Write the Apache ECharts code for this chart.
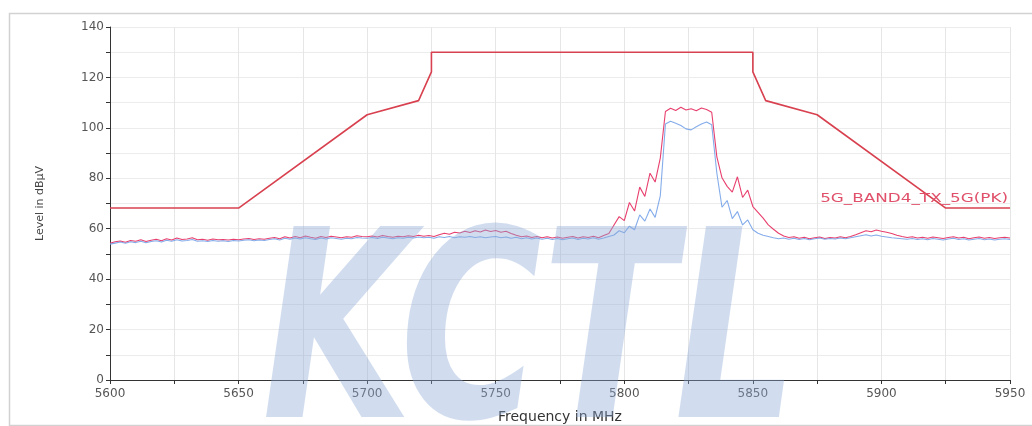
<!DOCTYPE html>
<html>
<head>
<meta charset="utf-8">
<script src="https://cdn.jsdelivr.net/npm/echarts@6/dist/echarts.min.js"></script>
<style>
html,body{margin:0;padding:0;background:#fff;}
#chart{width:1032px;height:426px;}
</style>
</head>
<body>
<div id="chart"></div>
<script>
// Frequency grid of the sweep traces (MHz)
const FREQ_START = 5600;
const FREQ_STEP = 2;

// Peak trace (dBµV/m), 5600..5950 MHz every 2 MHz
const pkTrace = [
  54.2,54.8,55.1,54.6,55.3,55.0,55.6,54.9,55.4,55.8,55.2,56.0,55.5,56.3,55.7,55.9,56.4,55.6,55.8,55.4,55.9,55.6,55.7,55.5,55.8,
  55.6,55.9,56.1,55.7,56.0,55.8,56.2,56.5,56.0,56.8,56.3,56.9,56.4,57.1,56.6,56.2,56.9,56.5,57.0,56.7,56.4,56.8,56.6,57.2,56.9,
  56.8,57.1,56.7,57.3,56.9,56.6,57.0,56.8,57.2,56.9,57.4,57.0,57.3,56.9,57.6,58.2,57.8,58.6,58.3,59.0,58.5,59.2,58.7,59.5,58.9,
  59.3,58.6,59.0,58.1,57.4,56.8,57.1,56.5,56.9,56.4,56.8,56.3,56.7,56.2,56.6,56.9,56.3,56.8,56.5,57.0,56.4,57.3,58.1,
  61.5,64.8,63.2,70.4,67.0,76.5,72.8,82.0,78.5,88.0,
  106.5,107.8,106.9,108.2,107.1,107.6,106.8,107.9,107.3,106.2,
  88.5,80.2,76.8,74.5,80.6,72.4,75.3,68.8,66.5,64.2,61.5,59.8,
  58.2,57.1,56.5,56.8,56.2,56.6,56.0,56.4,56.7,56.1,56.5,56.3,56.8,56.4,56.9,57.6,58.4,59.2,58.8,59.5,59.0,58.6,58.1,57.4,56.9,
  56.5,56.8,56.3,56.6,56.2,56.7,56.4,56.1,56.5,56.8,56.3,56.6,56.0,56.4,56.7,56.2,56.5,56.1,56.4,56.6,56.3
];

// Average trace (dBµV/m), same grid
const avTrace = [
  53.9,54.3,54.7,54.2,54.8,54.5,55.0,54.4,54.9,55.2,54.7,55.4,55.0,55.6,55.1,55.3,55.7,55.0,55.2,54.9,55.3,55.0,55.2,54.9,55.3,
  55.1,55.4,55.6,55.2,55.5,55.3,55.7,56.0,55.5,56.2,55.8,56.3,55.9,56.4,56.0,55.7,56.3,55.9,56.4,56.1,55.8,56.2,56.0,56.5,56.3,
  56.2,56.5,56.1,56.6,56.3,56.0,56.4,56.2,56.6,56.3,56.7,56.4,56.6,56.2,56.8,56.5,56.9,56.4,56.8,56.6,56.9,56.5,56.8,56.4,56.7,
  56.9,56.4,56.7,56.2,56.6,56.0,56.4,55.9,56.3,55.8,56.2,55.7,56.1,55.6,56.0,56.3,55.7,56.2,55.9,56.4,55.8,56.3,56.9,
  57.5,59.2,58.4,61.0,59.6,65.5,63.0,67.8,64.5,73.0,
  101.5,102.6,101.8,100.9,99.6,99.2,100.4,101.5,102.3,101.2,
  82.0,68.5,71.2,64.0,66.8,61.5,63.5,59.6,58.2,57.4,56.9,56.4,
  56.0,56.3,55.8,56.2,55.7,56.1,55.6,56.0,56.3,55.8,56.1,55.9,56.3,56.0,56.4,56.8,57.2,57.6,57.1,57.5,57.0,56.7,56.4,56.2,56.0,
  55.8,56.1,55.7,56.0,55.6,56.1,55.8,55.5,55.9,56.2,55.7,56.0,55.5,55.8,56.1,55.6,55.9,55.5,55.8,56.0,55.7
];

// Limit line breakpoints
const limitFreq  = [5600, 5650, 5700, 5720, 5725, 5725, 5850, 5850, 5855, 5875, 5925, 5950];
const limitLevel = [68.2, 68.2, 105.2, 110.8, 122.2, 130, 130, 122.2, 110.8, 105.2, 68.2, 68.2];

const limitName = '5G_BAND4_TX_5G(PK)';
const xName = 'Frequency in MHz';
const yName = 'Level in dBµV';
const watermark = 'KCTL';

const pkData = pkTrace.map((v, i) => [FREQ_START + i * FREQ_STEP, v]);
const avData = avTrace.map((v, i) => [FREQ_START + i * FREQ_STEP, v]);
const limitData = limitFreq.map((f, i) => [f, limitLevel[i]]);

const FONT = 'DejaVu Sans';
const chart = echarts.init(document.getElementById('chart'), null, {renderer: 'canvas'});
chart.setOption({
  backgroundColor: '#ffffff',
  animation: false,
  textStyle: {fontFamily: FONT},
  grid: {left: 110, right: 22, top: 27, bottom: 46, containLabel: false, outerBoundsMode: 'none'},
  xAxis: {
    type: 'value', min: 5600, max: 5950, interval: 25,
    name: xName, nameLocation: 'middle', nameGap: 30,
    nameTextStyle: {fontSize: 14, color: '#333', fontFamily: FONT},
    axisLine: {lineStyle: {color: '#333', width: 1}},
    axisTick: {length: 4, lineStyle: {color: '#333'}},
    axisLabel: {fontSize: 12, color: '#555', margin: 8, fontFamily: FONT,
      formatter: v => (v % 50 === 0 ? String(v) : '')},
    splitLine: {show: true, lineStyle: {color: '#e6e6e6', width: 1}}
  },
  yAxis: {
    type: 'value', min: 0, max: 140, interval: 10,
    name: yName, nameLocation: 'middle', nameGap: 64,
    nameTextStyle: {fontSize: 11, color: '#444', fontFamily: FONT},
    axisLine: {show: true, lineStyle: {color: '#333', width: 1}},
    axisTick: {show: true, length: 4, lineStyle: {color: '#333'}},
    axisLabel: {fontSize: 12, color: '#555', margin: 6, fontFamily: FONT,
      formatter: v => (v % 20 === 0 ? String(v) : '')},
    splitLine: {show: true, lineStyle: {color: '#ececec', width: 1}}
  },
  series: [
    {
      name: 'limit', type: 'line', data: limitData, symbol: 'none',
      lineStyle: {color: '#d8414f', width: 1.6}, z: 3
    },
    {
      name: 'PK', type: 'line', data: pkData, symbol: 'none',
      lineStyle: {color: '#e8406e', width: 1.1}, z: 4
    },
    {
      name: 'AV', type: 'line', data: avData, symbol: 'none',
      lineStyle: {color: '#6f9de6', width: 1.1, opacity: 0.85}, z: 5
    }
  ]
});

// Limit-line caption anchored to the last limit point (right-aligned above it)
const lastIdx = limitFreq.length - 1;
const anchor = chart.convertToPixel({gridIndex: 0}, [limitFreq[lastIdx], limitLevel[lastIdx]]);
chart.setOption({
  graphic: [
    {type: 'rect', left: 7, top: 11, z: -10, silent: true,
      shape: {width: 1030, height: 412},
      style: {fill: 'none', stroke: '#d2d2d2', lineWidth: 1.5}},
    {type: 'text', x: anchor[0] - 2, y: anchor[1] - 3, z: 50, silent: true,
      scaleX: 1.4, originX: 0, originY: 0,
      style: {text: limitName, fill: '#e0506a', fontSize: 12, fontFamily: FONT,
        align: 'right', verticalAlign: 'bottom'}},
    {type: 'text', left: 262, top: 218, z: 100, silent: true,
      scaleX: 0.74,
      style: {text: watermark, fill: 'rgba(140,170,215,0.40)',
        font: 'italic bold 262px "DejaVu Sans"'}}
  ]
});
</script>
</body>
</html>
